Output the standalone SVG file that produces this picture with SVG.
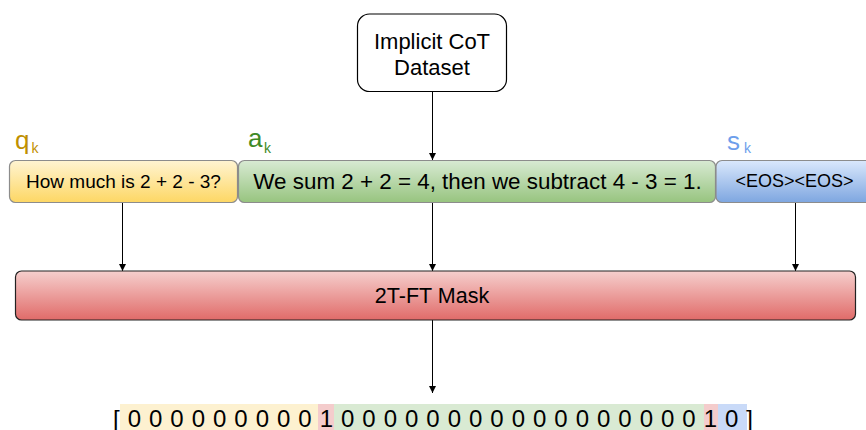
<svg xmlns="http://www.w3.org/2000/svg" width="866" height="430" viewBox="0 0 866 430">
  <style>
    text { font-family: "Liberation Sans", Arial, sans-serif; fill: #000; }
    .seg { stroke: #8c8c8c; stroke-width: 1.2; }
    .wire { stroke: #000; stroke-width: 1; fill: none; marker-end: url(#tip); }
    .sub { font-size: 14px; }
    .big { font-size: 26px; }
  </style>
  <defs>
    <marker id="tip" markerUnits="userSpaceOnUse" markerWidth="8" markerHeight="8" refX="7" refY="3.5" orient="auto">
      <path d="M0,0 L7,3.5 L0,7 z" fill="#000"/>
    </marker>
    <linearGradient id="gYellow" x1="0" y1="0" x2="0" y2="1">
      <stop offset="0" stop-color="#fff4d2"/>
      <stop offset="1" stop-color="#fdd764"/>
    </linearGradient>
    <linearGradient id="gGreen" x1="0" y1="0" x2="0" y2="1">
      <stop offset="0" stop-color="#d8ead3"/>
      <stop offset="1" stop-color="#97c47f"/>
    </linearGradient>
    <linearGradient id="gBlue" x1="0" y1="0" x2="0" y2="1">
      <stop offset="0" stop-color="#dae8fc"/>
      <stop offset="1" stop-color="#7ea6e0"/>
    </linearGradient>
    <linearGradient id="gRed" x1="0" y1="0" x2="0" y2="1">
      <stop offset="0" stop-color="#f6cfcd"/>
      <stop offset="1" stop-color="#e06b69"/>
    </linearGradient>
  </defs>

  <!-- connectors -->
  <g id="connectors">
    <line class="wire" x1="432.5" y1="91.5" x2="432.5" y2="160"/>
    <line class="wire" x1="122.5" y1="202.5" x2="122.5" y2="271"/>
    <line class="wire" x1="432.5" y1="202.5" x2="432.5" y2="271"/>
    <line class="wire" x1="795.5" y1="202.5" x2="795.5" y2="271"/>
    <line class="wire" x1="432.5" y1="320" x2="432.5" y2="393"/>
  </g>

  <!-- dataset source -->
  <g id="dataset">
    <rect x="357.5" y="14" width="149" height="77.5" rx="12" fill="#fff" stroke="#000" stroke-width="1.2"/>
    <text x="432" y="48.5" font-size="22" text-anchor="middle">Implicit CoT</text>
    <text x="432" y="74.5" font-size="22" text-anchor="middle">Dataset</text>
  </g>

  <!-- question segment -->
  <g id="question">
    <text x="15" y="148.5" class="big" fill="#bf9000" style="fill:#bf9000">q<tspan class="sub" dx="2" dy="4.5">k</tspan></text>
    <rect class="seg" x="9.5" y="160.5" width="228" height="42" rx="6" fill="url(#gYellow)"/>
    <text x="123.5" y="188" font-size="19" text-anchor="middle">How much is 2 + 2 - 3?</text>
  </g>

  <!-- answer segment -->
  <g id="answer">
    <text x="248" y="147" class="big" style="fill:#3f8a26">a<tspan class="sub" dx="1.5" dy="6">k</tspan></text>
    <rect class="seg" x="238.5" y="160.5" width="477" height="42" rx="6" fill="url(#gGreen)"/>
    <text x="477.5" y="188.5" font-size="22.4" text-anchor="middle">We sum 2 + 2 = 4, then we subtract 4 - 3 = 1.</text>
  </g>

  <!-- stop segment -->
  <g id="stop">
    <text x="727" y="150" class="big" style="fill:#6d9eeb">s<tspan class="sub" dx="4" dy="3">k</tspan></text>
    <rect class="seg" x="716" y="160.5" width="160" height="42" rx="6" fill="url(#gBlue)"/>
    <text x="794.5" y="187" font-size="18" text-anchor="middle">&lt;EOS&gt;&lt;EOS&gt;</text>
  </g>

  <!-- mask block -->
  <g id="mask">
    <rect x="15.5" y="271" width="840" height="49" rx="6" fill="url(#gRed)" stroke="#222" stroke-width="1.2"/>
    <text x="432" y="303" font-size="21.5" text-anchor="middle">2T-FT Mask</text>
  </g>

  <!-- resulting mask vector -->
  <g id="mask-vector">
    <rect x="120" y="404" width="198" height="26" fill="#fdf1d0"/>
    <rect x="318" y="404" width="16" height="26" fill="#f4cccc"/>
    <rect x="334" y="404" width="370" height="26" fill="#d9ead3"/>
    <rect x="704" y="404" width="14" height="26" fill="#f4cccc"/>
    <rect x="718" y="404" width="29" height="26" fill="#c9daf8"/>
    <text x="113" y="427" font-size="24" textLength="640" lengthAdjust="spacing">[ 0 0 0 0 0 0 0 0 0 1 0 0 0 0 0 0 0 0 0 0 0 0 0 0 0 0 0 1 0 ]</text>
  </g>
</svg>
